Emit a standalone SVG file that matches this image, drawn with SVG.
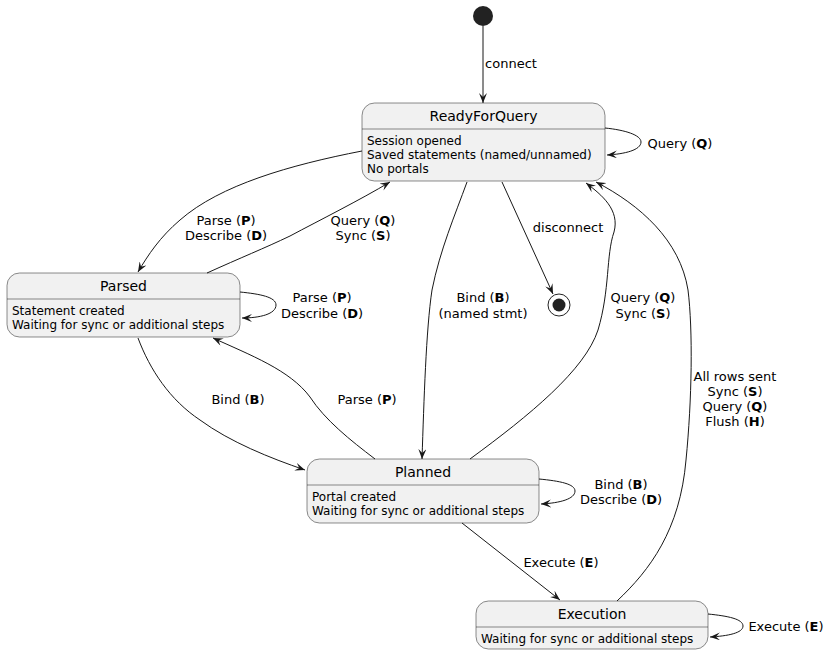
<svg xmlns="http://www.w3.org/2000/svg" width="836" height="655" viewBox="0 0 836 655">
<style>
.box{fill:#F1F1F1;stroke:#181818;stroke-width:0.5}
.sep{stroke:#181818;stroke-width:0.5}
.title{font-family:"DejaVu Sans",sans-serif;font-size:14px;fill:#000;text-anchor:middle}
.body{font-family:"DejaVu Sans",sans-serif;font-size:12px;fill:#000}
.lbl{font-family:"DejaVu Sans",sans-serif;font-size:13px;fill:#000;text-anchor:middle}
.edge{fill:none;stroke:#181818;stroke-width:1;marker-end:url(#arr)}
</style>
<defs>
<marker id="arr" viewBox="0 0 10 8" refX="10" refY="4" markerWidth="10" markerHeight="8" markerUnits="userSpaceOnUse" orient="auto">
<path d="M0,0 L10,4 L0,8 L4,4 Z" fill="#181818"/>
</marker>
</defs>
<rect width="836" height="655" fill="#FFFFFF"/>
<g id="start"><circle cx="483" cy="16" r="10" fill="#222222"/></g>
<g id="end"><circle cx="559" cy="305" r="11" fill="#FFFFFF" stroke="#222222" stroke-width="1"/><circle cx="559" cy="305" r="6.5" fill="#222222"/></g>
<g id="ReadyForQuery">
<rect class="box" x="362" y="103" width="243" height="78" rx="12.5"/>
<line class="sep" x1="362" y1="129" x2="605" y2="129"/>
<text class="title" x="483.5" y="121">ReadyForQuery</text>
<text class="body" x="367" y="145">Session opened</text>
<text class="body" x="367" y="159">Saved statements (named/unnamed)</text>
<text class="body" x="367" y="173">No portals</text>
</g>
<g id="Parsed">
<rect class="box" x="7" y="273" width="233" height="64" rx="12.5"/>
<line class="sep" x1="7" y1="299" x2="240" y2="299"/>
<text class="title" x="123.5" y="291">Parsed</text>
<text class="body" x="12" y="315">Statement created</text>
<text class="body" x="12" y="329">Waiting for sync or additional steps</text>
</g>
<g id="Planned">
<rect class="box" x="307" y="459" width="232" height="64" rx="12.5"/>
<line class="sep" x1="307" y1="485" x2="539" y2="485"/>
<text class="title" x="423" y="477">Planned</text>
<text class="body" x="312" y="501">Portal created</text>
<text class="body" x="312" y="515">Waiting for sync or additional steps</text>
</g>
<g id="Execution">
<rect class="box" x="476" y="601" width="232" height="48" rx="12.5"/>
<line class="sep" x1="476" y1="627" x2="708" y2="627"/>
<text class="title" x="592" y="619">Execution</text>
<text class="body" x="481" y="643">Waiting for sync or additional steps</text>
</g>
<g id="connectors">
<path class="edge" d="M483,26 L483,103"/>
<text class="lbl" x="511" y="68">connect</text>
<path class="edge" d="M605,128 C625,130 641,135 641,142 C641,150 625,154 607,155"/>
<text class="lbl" x="680" y="147.5">Query (<tspan font-weight="bold">Q</tspan>)</text>
<path class="edge" d="M362,151 C290,165 220,185 180,220 C160,237 148,255 138,272"/>
<text class="lbl" x="226" y="224.5">Parse (<tspan font-weight="bold">P</tspan>)</text>
<text class="lbl" x="226" y="239.5">Describe (<tspan font-weight="bold">D</tspan>)</text>
<path class="edge" d="M207,273 C240,258 265,248 290,236 C320,220 360,200 390,182"/>
<text class="lbl" x="363" y="224.5">Query (<tspan font-weight="bold">Q</tspan>)</text>
<text class="lbl" x="363" y="239.5">Sync (<tspan font-weight="bold">S</tspan>)</text>
<path class="edge" d="M240,292 C260,294 276,297 276,305 C276,314 260,318 242,318"/>
<text class="lbl" x="322" y="302">Parse (<tspan font-weight="bold">P</tspan>)</text>
<text class="lbl" x="322" y="318">Describe (<tspan font-weight="bold">D</tspan>)</text>
<path class="edge" d="M138,338 C150,370 170,400 200,420 C230,442 270,458 305,470"/>
<text class="lbl" x="238" y="403.5">Bind (<tspan font-weight="bold">B</tspan>)</text>
<path class="edge" d="M375,459 C350,440 325,420 310,397 C290,370 250,355 213,338"/>
<text class="lbl" x="367" y="403.5">Parse (<tspan font-weight="bold">P</tspan>)</text>
<path class="edge" d="M467,182 C455,215 440,250 432,290 C426,330 424,400 422,459"/>
<text class="lbl" x="483" y="301.5">Bind (<tspan font-weight="bold">B</tspan>)</text>
<text class="lbl" x="483" y="317.5">(named stmt)</text>
<path class="edge" d="M502,182 L553,294"/>
<text class="lbl" x="568" y="231.5">disconnect</text>
<path class="edge" d="M470,459 C530,415 585,370 598,330 C610,290 606,255 614,232 C620,210 602,195 586,183"/>
<text class="lbl" x="643" y="301.5">Query (<tspan font-weight="bold">Q</tspan>)</text>
<text class="lbl" x="643" y="317.5">Sync (<tspan font-weight="bold">S</tspan>)</text>
<path class="edge" d="M617,601 C650,570 680,530 686,460 C692,400 693,330 688,290 C680,240 640,205 596,182"/>
<text class="lbl" x="735" y="381">All rows sent</text>
<text class="lbl" x="735" y="396">Sync (<tspan font-weight="bold">S</tspan>)</text>
<text class="lbl" x="735" y="411">Query (<tspan font-weight="bold">Q</tspan>)</text>
<text class="lbl" x="735" y="426">Flush (<tspan font-weight="bold">H</tspan>)</text>
<path class="edge" d="M539,479 C560,481 575,484 575,491 C575,499 560,503 541,504"/>
<text class="lbl" x="621" y="488.5">Bind (<tspan font-weight="bold">B</tspan>)</text>
<text class="lbl" x="621" y="503.5">Describe (<tspan font-weight="bold">D</tspan>)</text>
<path class="edge" d="M462,523 L560,600"/>
<text class="lbl" x="561" y="566.5">Execute (<tspan font-weight="bold">E</tspan>)</text>
<path class="edge" d="M708,614 C728,616 743,619 743,626 C743,633 728,636 710,637"/>
<text class="lbl" x="786" y="630.5">Execute (<tspan font-weight="bold">E</tspan>)</text>
</g>
</svg>
